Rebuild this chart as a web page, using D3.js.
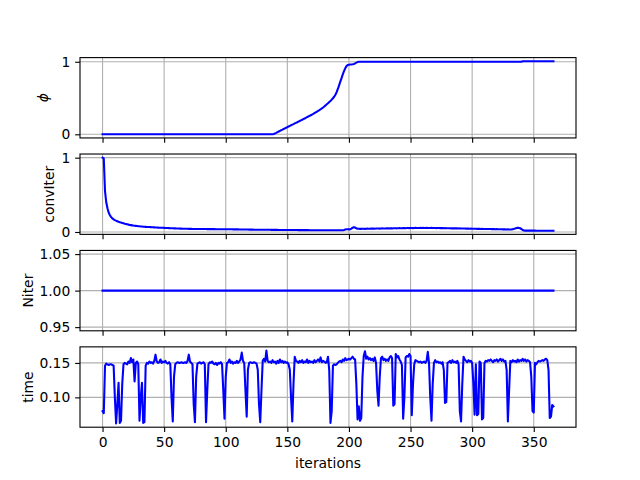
<!DOCTYPE html>
<html>
<head>
<meta charset="utf-8">
<script src="https://cdn.jsdelivr.net/npm/d3@7"></script>
<style>
  body { margin: 0; background: #fff; }
  text { font-family: "DejaVu Sans", sans-serif; }
</style>
</head>
<body>
<div id="chart"></div>
<script>
// values, one per iteration
const phi = [
  0,0,0,0,0,0,0,0,0,0, 0,0,0,0,0,0,0,0,0,0, 0,0,0,0,0,0,0,0,0,0, 0,0,0,0,0,0,0,0,0,0,
  0,0,0,0,0,0,0,0,0,0, 0,0,0,0,0,0,0,0,0,0, 0,0,0,0,0,0,0,0,0,0, 0,0,0,0,0,0,0,0,0,0,
  0,0,0,0,0,0,0,0,0,0, 0,0,0,0,0,0,0,0,0,0, 0,0,0,0,0,0,0,0,0,0, 0,0,0,0,0,0,0,0,0,0,
  0,0,0,0,0,0,0,0,0,0, 0,0,0,0,0,0,0,0,0,
  0.004,0.012,0.020,0.029,0.038,0.047,0.056,0.064,0.073,0.082,
  0.090,0.099,0.107,0.116,0.124,0.133,0.141,0.150,0.158,0.166,
  0.175,0.183,0.192,0.200,0.209,0.218,0.227,0.236,0.245,0.254,
  0.263,0.272,0.281,0.291,0.301,0.311,0.322,0.333,0.345,0.357,
  0.370,0.384,0.398,0.413,0.428,0.444,0.460,0.478,0.497,0.518,
  0.545,0.580,0.625,0.675,0.725,0.775,0.825,0.870,0.910,0.940,
  0.955,0.960,0.962,0.963,0.965,0.970,0.978,0.988,0.995,
  1,1,1,1,1,1,1,1,1,1, 1,1,1,1,1,1,1,1,1,1, 1,1,1,1,1,1,1,1,1,1, 1,1,1,1,1,1,1,1,1,1,
  1,1,1,1,1,1,1,1,1,1, 1,1,1,1,1,1,1,1,1,1, 1,1,1,1,1,1,1,1,1,1, 1,1,1,1,1,1,1,1,1,1,
  1,1,1,1,1,1,1,1,1,1, 1,1,1,1,1,1,1,1,1,1, 1,1,1,1,1,1,1,1,1,1, 1,1,1,1,1,1,1,1,1,1,
  1,1,1,1,1,1,1,1,1,1, 1,1,1,
  1.007,1.007,1.007,1.007,1.007,1.007,1.007,1.007,1.007,1.007,
  1.007,1.007,1.007,1.007,1.007,1.007,1.007,1.007,1.007,1.007,
  1.007,1.007,1.007,1.007,1.007,1.007
];

const convIter = [
  1.0,0.99,0.55,0.40,0.32,0.26,0.225,0.20,0.182,0.170,
  0.160,0.152,0.145,0.138,0.132,0.126,0.121,0.116,0.111,0.107,
  0.103,0.099,0.095,0.092,0.089,0.086,0.084,0.082,0.080,0.078,
  0.076,0.074,0.073,0.071,0.070,0.069,0.068,0.067,0.066,0.065,
  0.064,0.063,0.062,0.061,0.060,0.059,0.058,0.058,0.057,0.056,
  0.055,0.054,0.053,0.053,0.052,0.051,0.050,0.050,0.049,0.048,
  0.047,0.046,0.046,0.045,0.045,0.044,0.044,0.043,0.043,0.043,
  0.042,0.042,0.042,0.041,0.041,0.041,0.040,0.040,0.040,0.040,
  0.039,0.039,0.039,0.039,0.039,0.038,0.038,0.038,0.038,0.038,
  0.038,0.038,0.037,0.037,0.037,0.037,0.037,0.037,0.037,0.037,
  0.037,0.036,0.036,0.036,0.036,0.036,0.035,0.035,0.035,0.035,
  0.035,0.034,0.034,0.034,0.034,0.033,0.033,0.033,0.033,0.032,
  0.032,0.032,0.032,0.031,0.031,0.031,0.031,0.030,0.030,0.030,
  0.030,0.030,0.029,0.029,0.029,0.029,0.029,0.028,0.028,0.028,
  0.028,0.028,0.028,0.027,0.027,0.027,0.027,0.027,0.027,0.027,
  0.027,0.026,0.026,0.026,0.026,0.026,0.026,0.026,0.026,0.025,
  0.025,0.025,0.025,0.025,0.025,0.025,0.025,0.025,0.024,0.024,
  0.024,0.024,0.024,0.024,0.024,0.024,0.024,0.024,0.024,0.024,
  0.023,0.023,0.023,0.023,0.023,0.023,0.023,0.023,0.023,0.023,
  0.023,0.023,0.023,0.023,0.023,0.023,0.026,0.032,0.036,0.037,
  0.035,0.036,0.045,0.058,0.065,0.060,0.050,0.044,0.043,0.042,
  0.042,0.043,0.043,0.042,0.044,0.045,0.044,0.043,0.045,0.046,
  0.045,0.044,0.046,0.047,0.046,0.045,0.047,0.048,0.047,0.046,
  0.048,0.049,0.048,0.050,0.049,0.048,0.050,0.051,0.050,0.049,
  0.051,0.052,0.050,0.051,0.053,0.052,0.051,0.053,0.054,0.052,
  0.053,0.054,0.052,0.053,0.055,0.054,0.053,0.054,0.055,0.054,
  0.055,0.054,0.053,0.055,0.054,0.053,0.054,0.055,0.053,0.054,
  0.053,0.052,0.054,0.053,0.052,0.053,0.052,0.051,0.052,0.051,
  0.050,0.051,0.050,0.049,0.050,0.049,0.048,0.049,0.048,0.047,
  0.048,0.047,0.046,0.047,0.046,0.045,0.046,0.045,0.044,0.045,
  0.044,0.043,0.044,0.043,0.042,0.043,0.042,0.041,0.042,0.041,
  0.040,0.041,0.040,0.039,0.040,0.039,0.038,0.039,0.038,0.037,
  0.038,0.037,0.036,0.037,0.036,0.035,0.036,0.035,0.034,0.035,
  0.034,0.034,0.035,0.037,0.042,0.048,0.053,0.056,0.055,0.050,
  0.040,0.026,0.019,0.018,0.018,0.018,0.018,0.018,0.018,0.018,
  0.018,0.018,0.017,0.017,0.017,0.017,0.017,0.017,0.017,0.017,
  0.017,0.017,0.017,0.017,0.017,0.017,0.017
];

const niter = [
  1,1,1,1,1,1,1,1,1,1, 1,1,1,1,1,1,1,1,1,1, 1,1,1,1,1,1,1,1,1,1, 1,1,1,1,1,1,1,1,1,1,
  1,1,1,1,1,1,1,1,1,1, 1,1,1,1,1,1,1,1,1,1, 1,1,1,1,1,1,1,1,1,1, 1,1,1,1,1,1,1,1,1,1,
  1,1,1,1,1,1,1,1,1,1, 1,1,1,1,1,1,1,1,1,1, 1,1,1,1,1,1,1,1,1,1, 1,1,1,1,1,1,1,1,1,1,
  1,1,1,1,1,1,1,1,1,1, 1,1,1,1,1,1,1,1,1,1, 1,1,1,1,1,1,1,1,1,1, 1,1,1,1,1,1,1,1,1,1,
  1,1,1,1,1,1,1,1,1,1, 1,1,1,1,1,1,1,1,1,1, 1,1,1,1,1,1,1,1,1,1, 1,1,1,1,1,1,1,1,1,1,
  1,1,1,1,1,1,1,1,1,1, 1,1,1,1,1,1,1,1,1,1, 1,1,1,1,1,1,1,1,1,1, 1,1,1,1,1,1,1,1,1,1,
  1,1,1,1,1,1,1,1,1,1, 1,1,1,1,1,1,1,1,1,1, 1,1,1,1,1,1,1,1,1,1, 1,1,1,1,1,1,1,1,1,1,
  1,1,1,1,1,1,1,1,1,1, 1,1,1,1,1,1,1,1,1,1, 1,1,1,1,1,1,1,1,1,1, 1,1,1,1,1,1,1,1,1,1,
  1,1,1,1,1,1,1,1,1,1, 1,1,1,1,1,1,1,1,1,1, 1,1,1,1,1,1,1,1,1,1, 1,1,1,1,1,1,1,1,1,1,
  1,1,1,1,1,1,1
];

const time = [
  0.080,0.077,0.146,0.149,0.148,0.147,0.148,0.148,0.147,0.146,
  0.100,0.062,0.090,0.121,0.063,0.066,0.120,0.148,0.150,0.149,
  0.148,0.152,0.150,0.157,0.151,0.155,0.123,0.150,0.152,0.148,
  0.066,0.100,0.121,0.063,0.064,0.146,0.150,0.149,0.152,0.150,
  0.151,0.149,0.153,0.162,0.152,0.150,0.151,0.155,0.150,0.152,
  0.151,0.153,0.150,0.149,0.151,0.148,0.100,0.065,0.130,0.148,
  0.150,0.151,0.150,0.150,0.151,0.150,0.150,0.151,0.150,0.153,
  0.162,0.152,0.150,0.148,0.090,0.064,0.130,0.149,0.150,0.151,
  0.149,0.150,0.151,0.148,0.064,0.110,0.148,0.151,0.150,0.152,
  0.149,0.148,0.150,0.147,0.150,0.149,0.151,0.148,0.110,0.069,
  0.130,0.150,0.151,0.155,0.150,0.152,0.149,0.151,0.150,0.153,
  0.150,0.152,0.155,0.165,0.153,0.150,0.110,0.072,0.140,0.150,
  0.151,0.150,0.150,0.151,0.150,0.149,0.140,0.090,0.064,0.110,
  0.153,0.156,0.152,0.168,0.153,0.151,0.152,0.150,0.154,0.151,
  0.152,0.149,0.153,0.150,0.155,0.151,0.153,0.150,0.152,0.150,
  0.151,0.148,0.140,0.100,0.065,0.120,0.159,0.153,0.152,0.150,
  0.153,0.151,0.154,0.150,0.152,0.151,0.155,0.150,0.153,0.151,
  0.152,0.150,0.154,0.151,0.153,0.155,0.152,0.158,0.151,0.153,
  0.152,0.150,0.151,0.159,0.140,0.063,0.080,0.146,0.148,0.147,
  0.148,0.150,0.152,0.153,0.151,0.155,0.153,0.157,0.154,0.155,
  0.156,0.155,0.157,0.159,0.156,0.155,0.120,0.068,0.087,0.066,
  0.070,0.130,0.160,0.167,0.156,0.159,0.155,0.157,0.154,0.156,
  0.153,0.158,0.150,0.110,0.088,0.130,0.157,0.159,0.154,0.156,
  0.153,0.155,0.153,0.158,0.160,0.157,0.088,0.090,0.163,0.158,
  0.160,0.155,0.152,0.147,0.069,0.100,0.158,0.160,0.159,0.163,
  0.160,0.074,0.120,0.148,0.154,0.153,0.152,0.151,0.152,0.150,
  0.151,0.152,0.150,0.153,0.166,0.150,0.100,0.066,0.120,0.150,
  0.154,0.151,0.152,0.150,0.151,0.149,0.151,0.140,0.092,0.093,
  0.150,0.151,0.153,0.150,0.154,0.151,0.152,0.150,0.153,0.148,
  0.080,0.065,0.120,0.159,0.155,0.153,0.151,0.154,0.152,0.153,
  0.150,0.120,0.075,0.148,0.074,0.076,0.152,0.150,0.068,0.070,
  0.150,0.153,0.152,0.154,0.153,0.155,0.153,0.151,0.154,0.153,
  0.155,0.152,0.154,0.156,0.153,0.155,0.152,0.153,0.140,0.065,
  0.110,0.153,0.151,0.154,0.152,0.153,0.151,0.155,0.152,0.154,
  0.153,0.156,0.153,0.155,0.152,0.154,0.153,0.151,0.130,0.080,
  0.078,0.150,0.148,0.151,0.153,0.152,0.153,0.154,0.153,0.155,
  0.156,0.154,0.140,0.070,0.072,0.089,0.087
];

const xTicks = [0, 50, 100, 150, 200, 250, 300, 350];
const phiTicks = [0, 1];
const convTicks = [0, 1];
const niterTicks = [0.95, 1.00, 1.05];
const timeTicks = [0.10, 0.15];

const panels = [
  { values: phi, label: "ϕ", italic: true, ticks: phiTicks, fmt: d3.format("d"), labelX: 47.5 },
  { values: convIter, label: "convIter", ticks: convTicks, fmt: d3.format("d"), labelX: 54 },
  { values: niter, label: "Niter", ticks: niterTicks, fmt: d3.format(".2f"), labelX: 32.5 },
  { values: time, label: "time", ticks: timeTicks, fmt: d3.format(".2f"), labelX: 32.5 }
];

const width = 640, height = 480;
const left = 80, right = 576;
const top0 = 57.6, axH = 80.35, gap = 16.07;
const fontSize = "13.89px";
const pt = 100 / 72;   // matplotlib points -> px at dpi 100

const svg = d3.select("#chart").append("svg")
    .attr("width", width)
    .attr("height", height);

const iters = d3.range(time.length);
const xMax = iters.length - 1;
const x = d3.scaleLinear()
    .domain([-0.05 * xMax, 1.05 * xMax])
    .range([left, right]);

panels.forEach(function(p, k) {
    const y0 = top0 + k * (axH + gap);
    let [lo, hi] = d3.extent(p.values);
    if (lo === hi) { lo -= 0.05 * Math.abs(lo); hi += 0.05 * Math.abs(hi); }
    const pad = 0.05 * (hi - lo);
    const y = d3.scaleLinear().domain([lo - pad, hi + pad]).range([y0 + axH, y0]);

    const g = svg.append("g");

    // grid
    g.append("g").selectAll("line")
        .data(xTicks)
        .enter().append("line")
        .attr("x1", d => x(d)).attr("x2", d => x(d))
        .attr("y1", y0).attr("y2", y0 + axH)
        .attr("stroke", "#b0b0b0").attr("stroke-width", 0.8 * pt);
    g.append("g").selectAll("line")
        .data(p.ticks)
        .enter().append("line")
        .attr("x1", left).attr("x2", right)
        .attr("y1", d => y(d)).attr("y2", d => y(d))
        .attr("stroke", "#b0b0b0").attr("stroke-width", 0.8 * pt);

    // data line
    g.append("path")
        .datum(p.values)
        .attr("fill", "none")
        .attr("stroke", "#0000ff")
        .attr("stroke-width", 1.5 * pt)
        .attr("stroke-linejoin", "round")
        .attr("stroke-linecap", "square")
        .attr("d", d3.line().x((d, i) => x(iters[i])).y(d => y(d)));

    // frame
    g.append("rect")
        .attr("x", left).attr("y", y0)
        .attr("width", right - left).attr("height", axH)
        .attr("fill", "none").attr("stroke", "#000").attr("stroke-width", 0.8 * pt);

    // y axis
    const ya = g.append("g")
        .attr("transform", "translate(" + left + ",0)")
        .call(d3.axisLeft(y).tickValues(p.ticks).tickFormat(p.fmt).tickSize(3.5 * pt).tickPadding(3.5 * pt));
    ya.select(".domain").remove();

    // x axis (labels only on the bottom panel)
    const xa = g.append("g")
        .attr("transform", "translate(0," + (y0 + axH) + ")")
        .call(d3.axisBottom(x).tickValues(xTicks).tickSize(3.5 * pt).tickPadding(3.5 * pt)
            .tickFormat(k === panels.length - 1 ? d3.format("d") : ""));
    xa.select(".domain").remove();
    xa.selectAll("text").attr("dy", "0.71em");

    g.selectAll(".tick line").attr("stroke", "#000").attr("stroke-width", 0.8 * pt);
    g.selectAll(".tick text")
        .attr("fill", "#000")
        .style("font-size", fontSize)
        .style("font-family", "'DejaVu Sans', sans-serif");

    // y label
    svg.append("text")
        .attr("transform", "translate(" + p.labelX + "," + (y0 + axH / 2) + ") rotate(-90)")
        .attr("text-anchor", "middle")
        .style("font-size", fontSize)
        .style("font-style", p.italic ? "italic" : "normal")
        .text(p.label);
});

svg.append("text")
    .attr("x", (left + right) / 2)
    .attr("y", 467.5)
    .attr("text-anchor", "middle")
    .style("font-size", fontSize)
    .text("iterations");
</script>
</body>
</html>
